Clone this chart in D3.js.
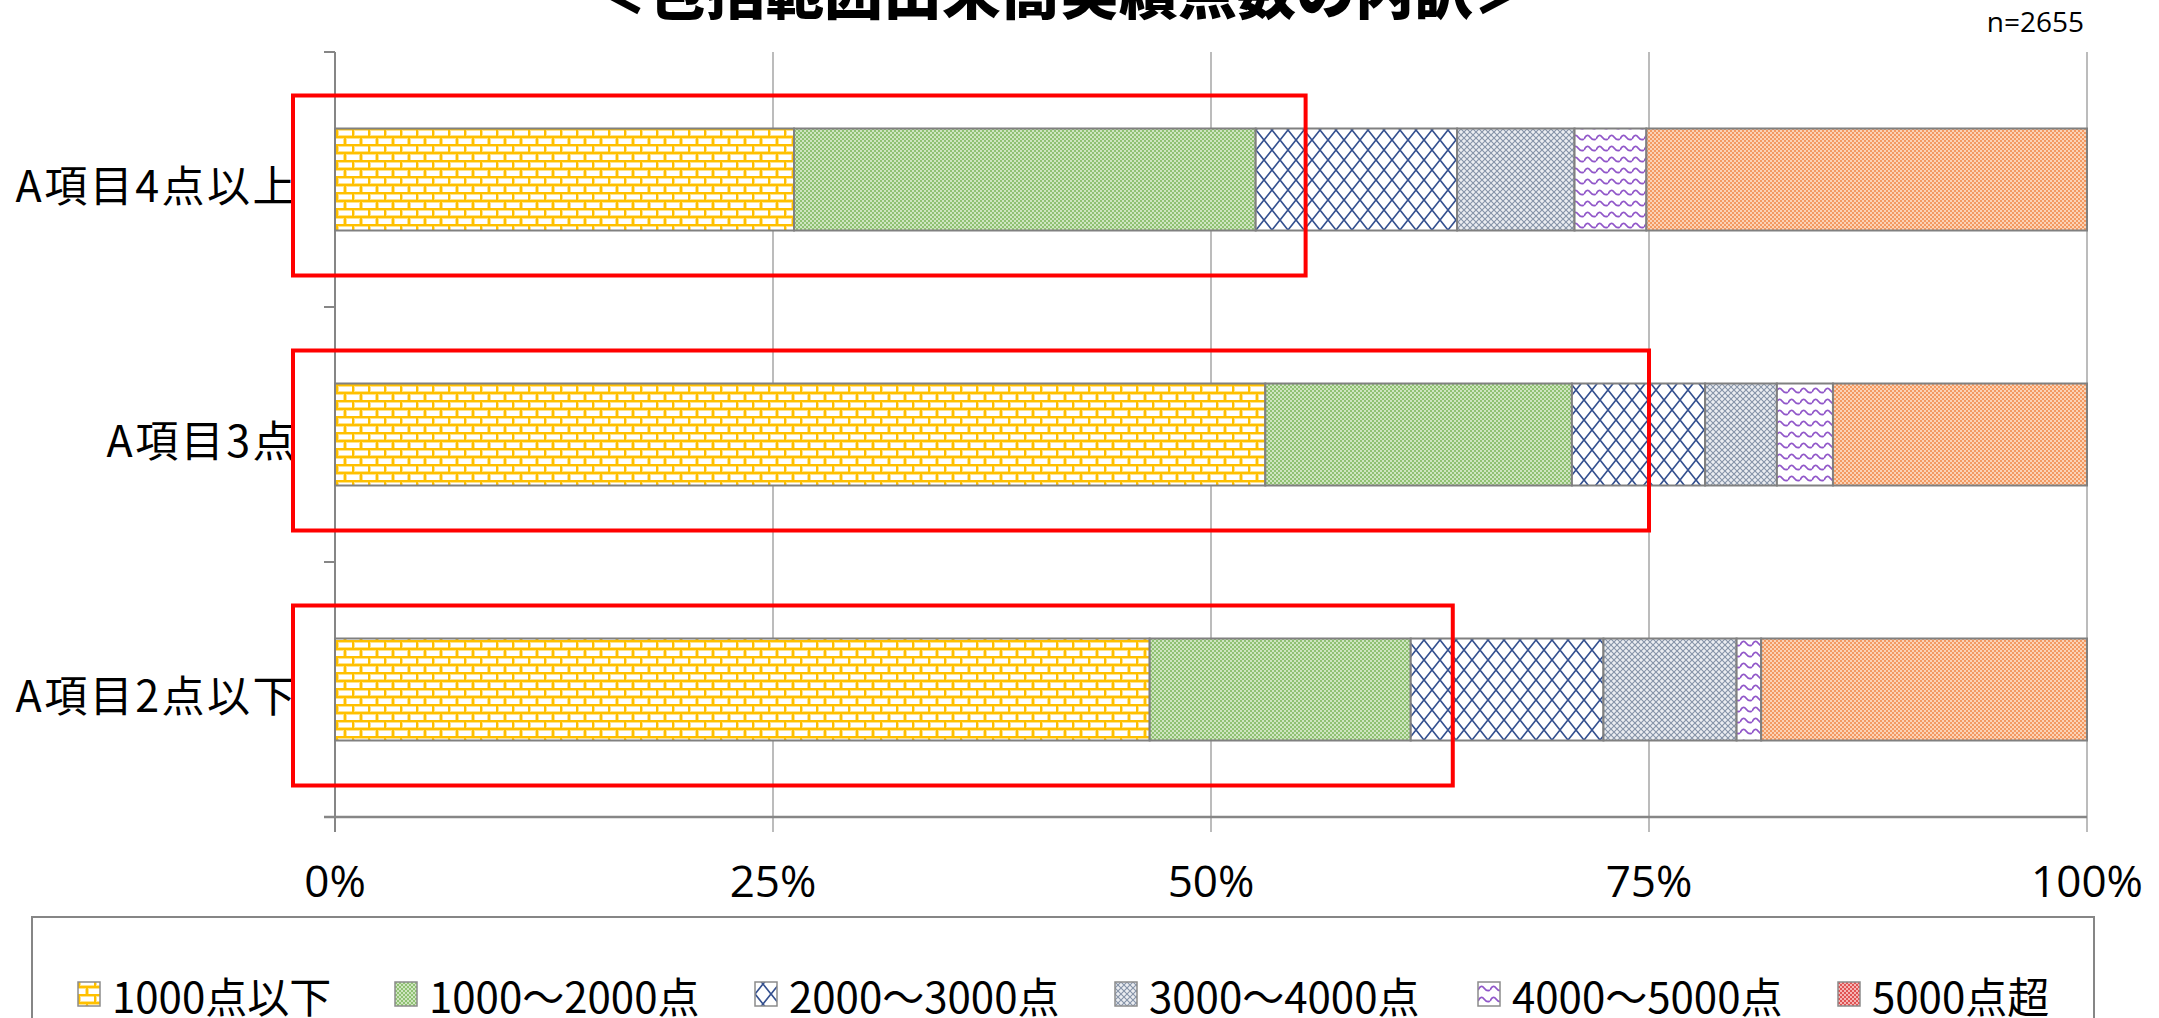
<!DOCTYPE html>
<html lang="ja">
<head>
<meta charset="utf-8">
<script src="https://cdn.jsdelivr.net/npm/d3@7"></script>
<style>
  html, body { margin: 0; padding: 0; background: #ffffff; overflow: hidden; }
  svg { display: block; }
</style>
</head>
<body>
<svg id="chart" width="2159" height="1018"></svg>
<script>
// Categories (rows) and series (stacked segments), values in percent
const categories = ["A項目4点以上", "A項目3点", "A項目2点以下"];
const seriesNames = ["1000点以下", "1000～2000点", "2000～3000点", "3000～4000点", "4000～5000点", "5000点超"];
const below1000 = [26.2, 53.1, 46.5];
const from1000to2000 = [26.35, 17.5, 14.9];
const from2000to3000 = [11.5, 7.6, 11.0];
const from3000to4000 = [6.7, 4.1, 7.6];
const from4000to5000 = [4.1, 3.2, 1.4];
const over5000 = [25.15, 14.5, 18.6];
const tickValues = [0, 25, 50, 75, 100];
const highlightEnd = [55.4, 75.0, 63.8];   // right edge of the red frame per row, in percent
const titleText = "＜包括範囲出来高実績点数の内訳＞";
const sampleText = "n=2655";

const seriesValues = [below1000, from1000to2000, from2000to3000, from3000to4000, from4000to5000, over5000];

const rows = categories.map((c, i) => {
  const r = { category: c };
  seriesNames.forEach((s, j) => { r[s] = seriesValues[j][i]; });
  return r;
});

const svg = d3.select("#chart");
const defs = svg.append("defs");

// ---- fill patterns ----
function pat(id, w, h, bg) {
  const p = defs.append("pattern").attr("id", id)
    .attr("patternUnits", "userSpaceOnUse").attr("width", w).attr("height", h);
  p.append("rect").attr("width", w).attr("height", h).attr("fill", bg);
  return p;
}
// bricks
{
  const p = pat("p-brick", 16, 16, "#ffffff");
  const d = "M0,1H16M0,9H16M1,1V9M9,9V17";
  p.append("path").attr("d", d).attr("stroke", "#FFE38A").attr("stroke-width", 4).attr("fill", "none");
  p.append("path").attr("d", d).attr("stroke", "#FFC000").attr("stroke-width", 2).attr("fill", "none");
}
// fine green checker
{
  const p = pat("p-green", 4, 4, "#CFE5C0");
  p.append("rect").attr("x", 0).attr("y", 0).attr("width", 2).attr("height", 2).attr("fill", "#8FC172");
  p.append("rect").attr("x", 2).attr("y", 2).attr("width", 2).attr("height", 2).attr("fill", "#8FC172");
}
// large diamond trellis
{
  const p = pat("p-diamond", 16, 20, "#ffffff");
  p.append("path").attr("d", "M0,0L16,20M16,0L0,20")
    .attr("stroke", "#34508F").attr("stroke-width", 1.7).attr("fill", "none");
}
// small gray trellis
{
  const p = pat("p-gray", 6, 6, "#EBEDF1");
  p.append("path").attr("d", "M0,0L6,6M6,0L0,6")
    .attr("stroke", "#8593A8").attr("stroke-width", 1.1).attr("fill", "none");
}
// purple wave
{
  const p = pat("p-wave", 12, 11, "#ffffff");
  p.append("path").attr("d", "M0,7 Q3,1 6,5 T12,7")
    .attr("stroke", "#9157C9").attr("stroke-width", 1.8).attr("fill", "none");
}
// fine orange checker
{
  const p = pat("p-orange", 4, 4, "#FBD3B6");
  p.append("rect").attr("x", 0).attr("y", 0).attr("width", 2).attr("height", 2).attr("fill", "#F39A62");
  p.append("rect").attr("x", 2).attr("y", 2).attr("width", 2).attr("height", 2).attr("fill", "#F39A62");
}
// fine red checker (legend key of the last series)
{
  const p = pat("p-red", 4, 4, "#F5B5B5");
  p.append("rect").attr("x", 0).attr("y", 0).attr("width", 2).attr("height", 2).attr("fill", "#E05252");
  p.append("rect").attr("x", 2).attr("y", 2).attr("width", 2).attr("height", 2).attr("fill", "#E05252");
}
const barFill = d3.scaleOrdinal().domain(seriesNames)
  .range(["url(#p-brick)", "url(#p-green)", "url(#p-diamond)", "url(#p-gray)", "url(#p-wave)", "url(#p-orange)"]);
const keyFill = d3.scaleOrdinal().domain(seriesNames)
  .range(["url(#p-brick)", "url(#p-green)", "url(#p-diamond)", "url(#p-gray)", "url(#p-wave)", "url(#p-red)"]);

// ---- scales ----
const plot = { left: 335, right: 2087, top: 52, bottom: 817 };
const x = d3.scaleLinear().domain([0, 100]).range([plot.left, plot.right]);
const y = d3.scaleBand().domain(categories).range([plot.top, plot.bottom]).padding(0);
const barH = y.bandwidth() * 0.4;
const barY = c => y(c) + (y.bandwidth() - barH) / 2;

const axisGray = "#868686";
const gridGray = "#A6A6A6";

// title (cut at the top edge)
svg.append("text").attr("x", 1060).attr("y", 14)
  .attr("text-anchor", "middle")
  .attr("font-family", "'Noto Sans CJK JP'").attr("font-weight", 900).attr("font-size", 59)
  .attr("fill", "#000").text(titleText);

svg.append("text").attr("x", 2084).attr("y", 32)
  .attr("text-anchor", "end")
  .attr("font-family", "'Open Sans'").attr("font-size", 28)
  .attr("fill", "#000").text(sampleText);

// vertical grid lines, extending below the axis as tick marks
svg.append("g").selectAll("line").data(tickValues).join("line")
  .attr("x1", d => x(d)).attr("x2", d => x(d))
  .attr("y1", plot.top).attr("y2", plot.bottom + 15)
  .attr("stroke", d => d === 0 ? axisGray : gridGray)
  .attr("stroke-width", d => d === 0 ? 2 : 1.5);

// category ticks at band boundaries
const boundaries = categories.map(c => y(c)).concat([plot.bottom]);
svg.append("g").selectAll("line").data(boundaries).join("line")
  .attr("x1", plot.left - 11).attr("x2", plot.left)
  .attr("y1", d => d).attr("y2", d => d)
  .attr("stroke", axisGray).attr("stroke-width", 2);

// bottom axis line
svg.append("line").attr("x1", plot.left - 11).attr("x2", plot.right)
  .attr("y1", plot.bottom).attr("y2", plot.bottom)
  .attr("stroke", axisGray).attr("stroke-width", 2.5);

// x tick labels
svg.append("g").selectAll("text").data(tickValues).join("text")
  .attr("x", d => x(d)).attr("y", 897)
  .attr("text-anchor", "middle")
  .attr("font-family", "'Open Sans'").attr("font-size", 44)
  .attr("fill", "#000").text(d => d + "%");

// stacked bars
const stacked = d3.stack().keys(seriesNames)(rows);
svg.append("g").selectAll("g").data(stacked).join("g")
  .attr("fill", d => barFill(d.key))
  .selectAll("rect").data(d => d).join("rect")
  .attr("x", d => x(d[0])).attr("width", d => x(d[1]) - x(d[0]))
  .attr("y", d => barY(d.data.category)).attr("height", barH)
  .attr("stroke", "#808080").attr("stroke-width", 2);

// category labels
svg.append("g").selectAll("text").data(categories).join("text")
  .attr("x", 298).attr("y", c => y(c) + y.bandwidth() / 2 + 3)
  .attr("text-anchor", "end").attr("dominant-baseline", "central")
  .attr("font-family", "'Noto Sans CJK JP'").attr("font-size", 43)
  .attr("letter-spacing", 2.5)
  .attr("fill", "#000").text(c => c);

// red highlight frames
svg.append("g").selectAll("rect").data(categories).join("rect")
  .attr("x", x(0) - 42)
  .attr("width", (c, i) => x(highlightEnd[i]) - x(0) + 42)
  .attr("y", c => y(c) + y.bandwidth() / 2 - 84)
  .attr("height", 180)
  .attr("fill", "none").attr("stroke", "#FF0000").attr("stroke-width", 4);

// legend
svg.append("rect").attr("x", 32).attr("y", 917).attr("width", 2062).attr("height", 200)
  .attr("fill", "none").attr("stroke", axisGray).attr("stroke-width", 2);
const legendX = [78, 395, 755, 1115, 1478, 1838];
const legendY = 994;
const lg = svg.append("g").selectAll("g").data(seriesNames).join("g")
  .attr("transform", (d, i) => `translate(${legendX[i]},${legendY})`);
lg.append("rect").attr("x", 0).attr("y", -12).attr("width", 22).attr("height", 24)
  .attr("fill", d => keyFill(d)).attr("stroke", "#8C8C8C").attr("stroke-width", 1.5);
lg.append("text").attr("x", 34).attr("y", 0)
  .attr("dominant-baseline", "central")
  .attr("font-family", "'Noto Sans CJK JP'").attr("font-size", 42)
  .attr("fill", "#000").text(d => d);
</script>
</body>
</html>
